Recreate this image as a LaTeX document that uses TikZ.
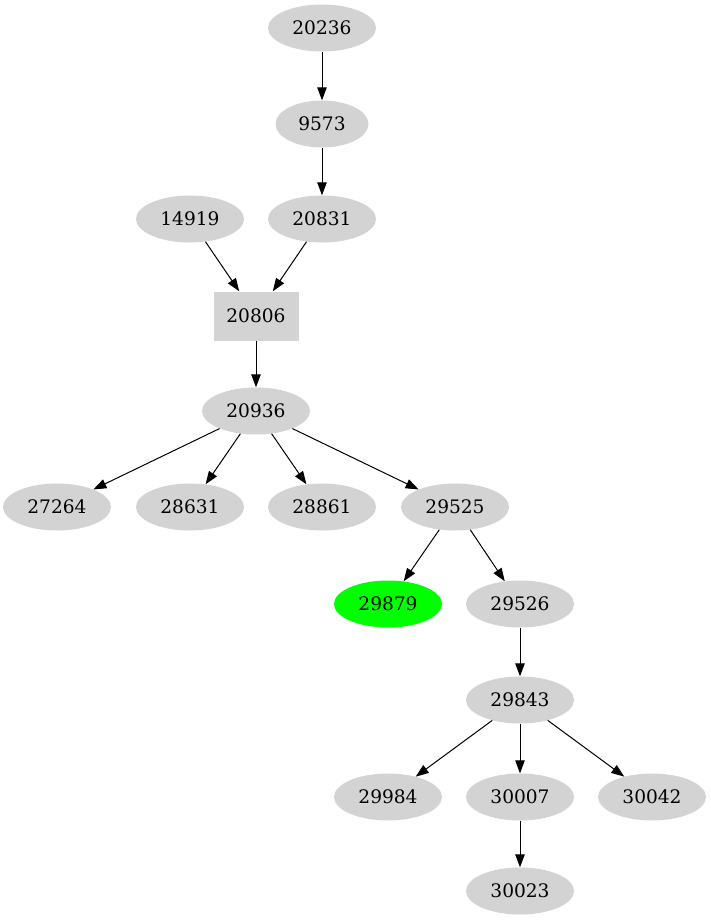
\documentclass[tikz,border=0pt]{standalone}
\usepackage{fontspec}
\setmainfont{DejaVu Serif}
\usetikzlibrary{arrows.meta, shapes.geometric}
\definecolor{nodegray}{HTML}{D3D3D3}
\definecolor{hitgreen}{HTML}{00FF00}
\begin{document}
\begin{tikzpicture}[x=1pt, y=-1pt,
  vert/.style={ellipse, fill=nodegray, minimum width=108pt, minimum height=47pt, inner sep=0pt, font=\fontsize{18.6}{20}\selectfont},
  rootbox/.style={rectangle, fill=nodegray, minimum width=85pt, minimum height=49pt, inner sep=0pt, font=\fontsize{18.6}{20}\selectfont},
  edge/.style={line width=1pt, -{Triangle[length=13pt, width=9.5pt]}}]
\useasboundingbox (0,0) rectangle (711,923);
% nodes, one row per rank
\node[vert] (n20236) at (322,28) {20236};
\node[vert, minimum width=93pt] (n9573) at (322,124) {9573};
\node[vert] (n14919) at (190,219) {14919};
\node[vert] (n20831) at (322,219) {20831};
\node[rootbox] (n20806) at (256,316) {20806};
\node[vert] (n20936) at (256,411) {20936};
\node[vert] (n27264) at (57,507) {27264};
\node[vert] (n28631) at (190,507) {28631};
\node[vert] (n28861) at (322,507) {28861};
\node[vert] (n29525) at (455,507) {29525};
\node[vert, fill=hitgreen] (n29879) at (388,604) {29879};
\node[vert] (n29526) at (520,604) {29526};
\node[vert] (n29843) at (520,700) {29843};
\node[vert] (n29984) at (388,797) {29984};
\node[vert] (n30007) at (520,797) {30007};
\node[vert] (n30042) at (652,797) {30042};
\node[vert] (n30023) at (520,891) {30023};
% edges
\foreach \from/\to in {20236/9573, 9573/20831, 14919/20806, 20831/20806, 20806/20936,
  20936/27264, 20936/28631, 20936/28861, 20936/29525, 29525/29879, 29525/29526,
  29526/29843, 29843/29984, 29843/30007, 29843/30042, 30007/30023}
  \draw[edge] (n\from) -- (n\to);
\end{tikzpicture}
\end{document}
